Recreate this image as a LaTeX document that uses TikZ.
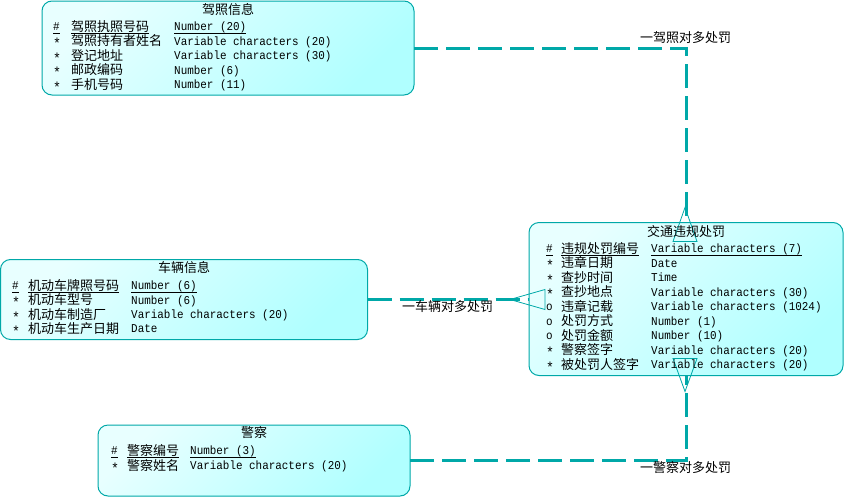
\documentclass[tikz,border=0pt]{standalone}
\usepackage{fontspec}
\newfontfamily\cjk{Noto Sans CJK SC}
\newfontfamily\mono[FakeStretch=0.91]{Liberation Mono}
\usetikzlibrary{calc}
\definecolor{tealA}{HTML}{00A8A8}
\definecolor{fillA}{HTML}{E8FFFF}
\definecolor{fillB}{HTML}{B0FFFF}
\tikzset{
  ebox/.style={draw=tealA, line width=1pt, rounded corners=10pt, top color=fillA, bottom color=fillB, shading angle=45, inner sep=0pt, outer sep=0pt},
  conn/.style={draw=tealA, line width=3pt, dash pattern=on 24pt off 8pt},
  foot/.style={draw=tealA, line width=0.8pt, line join=miter},
  cj/.style={font=\cjk\fontsize{13}{13}\selectfont, inner sep=0pt, anchor=base west},
  mn/.style={font=\mono\fontsize{12}{12}\selectfont, inner sep=0pt, anchor=base west},
  ttl/.style={font=\cjk\fontsize{13}{13}\selectfont, inner sep=0pt, anchor=base},
  ul/.style={draw=black, line width=0.8pt},
}
\newcommand\myast{\raisebox{-3.6pt}{\fontsize{14.5}{14.5}\selectfont *}}
\newcommand\erow[8]{%
  \node[mn] (#1m) at (#3,#2+3.8) {#6};
  \node[cj] (#1n) at (#4,#2+4.3) {#7};
  \node[mn] (#1t) at (#5,#2+3.8) {#8};
}
\newcommand\ukey[1]{%
  \draw[ul] ($(#1m.base west)+(0,2.2)$) -- ($(#1m.base east)+(0,2.2)$);
  \draw[ul] ($(#1t.base west)+(0,2.2)$) -- ($(#1t.base east)+(0,2.2)$);
  \draw[ul] (#1n.west |- {$(#1t.base)+(0,2.2)$}) -- (#1n.east |- {$(#1t.base)+(0,2.2)$});
}
\begin{document}
\begin{tikzpicture}[x=1pt,y=-1pt]
\useasboundingbox (0,0) rectangle (845,498);

% boxes
\node[ebox, minimum width=372pt, minimum height=94pt] (lic) at (228,48) {};
\node[ebox, minimum width=367pt, minimum height=80pt] (veh) at (184,299.5) {};
\node[ebox, minimum width=312pt, minimum height=71pt] (pol) at (254,460.5) {};
\node[ebox, minimum width=314pt, minimum height=153pt] (pen) at (686,299) {};

% connectors
\draw[conn] (lic.east) -| (pen.north);
\draw[conn] (veh.east) -- (veh.east -| pen.west);
\draw[conn] (pol.east) -| (pen.south);

% crow's feet
\draw[foot] ($(pen.north)+(-1,-15)$) -- ($(pen.north)+(-13,19)$) -- ($(pen.north)+(11,19)$) -- cycle;
\draw[foot] ($(pen.south)+(-1,16)$) -- ($(pen.south)+(-13,-17)$) -- ($(pen.south)+(11,-17)$) -- cycle;
\draw[foot] ($(veh.east -| pen.west)+(-19,0)$) -- ($(veh.east -| pen.west)+(16,-10)$) -- ($(veh.east -| pen.west)+(16,10)$) -- cycle;

% labels
\node[cj] (lab1) at (640,42.5) {一驾照对多处罚};
\node[cj] (lab2) at (402,311.5) {一车辆对多处罚};
\node[cj] (lab3) at (640,472.5) {一警察对多处罚};

% box 1
\node[ttl] (t1) at (228,14) {驾照信息};
\erow{a1}{27}{53}{71}{174}{\#}{驾照执照号码}{Number (20)}
\ukey{a1}
\erow{a2}{41.5}{53}{71}{174}{\myast}{驾照持有者姓名}{Variable characters (20)}
\erow{a3}{56}{53}{71}{174}{\myast}{登记地址}{Variable characters (30)}
\erow{a4}{70.5}{53}{71}{174}{\myast}{邮政编码}{Number (6)}
\erow{a5}{85}{53}{71}{174}{\myast}{手机号码}{Number (11)}

% box 2
\node[ttl] (t2) at (184,272.5) {车辆信息};
\erow{b1}{286}{12}{28}{131}{\#}{机动车牌照号码}{Number (6)}
\ukey{b1}
\erow{b2}{300.5}{12}{28}{131}{\myast}{机动车型号}{Number (6)}
\erow{b3}{315}{12}{28}{131}{\myast}{机动车制造厂}{Variable characters (20)}
\erow{b4}{329}{12}{28}{131}{\myast}{机动车生产日期}{Date}

% box 3
\node[ttl] (t3) at (254,437.5) {警察};
\erow{c1}{451}{111}{127}{190}{\#}{警察编号}{Number (3)}
\ukey{c1}
\erow{c2}{466}{111}{127}{190}{\myast}{警察姓名}{Variable characters (20)}

% box 4
\node[ttl] (t4) at (686,236) {交通违规处罚};
\erow{d1}{249}{546}{561}{651}{\#}{违规处罚编号}{Variable characters (7)}
\ukey{d1}
\erow{d2}{263.5}{546}{561}{651}{\myast}{违章日期}{Date}
\erow{d3}{278}{546}{561}{651}{\myast}{查抄时间}{Time}
\erow{d4}{292.5}{546}{561}{651}{\myast}{查抄地点}{Variable characters (30)}
\erow{d5}{307}{546}{561}{651}{o}{违章记载}{Variable characters (1024)}
\erow{d6}{321.5}{546}{561}{651}{o}{处罚方式}{Number (1)}
\erow{d7}{336}{546}{561}{651}{o}{处罚金额}{Number (10)}
\erow{d8}{350.5}{546}{561}{651}{\myast}{警察签字}{Variable characters (20)}
\erow{d9}{365}{546}{561}{651}{\myast}{被处罚人签字}{Variable characters (20)}
\end{tikzpicture}
\end{document}
